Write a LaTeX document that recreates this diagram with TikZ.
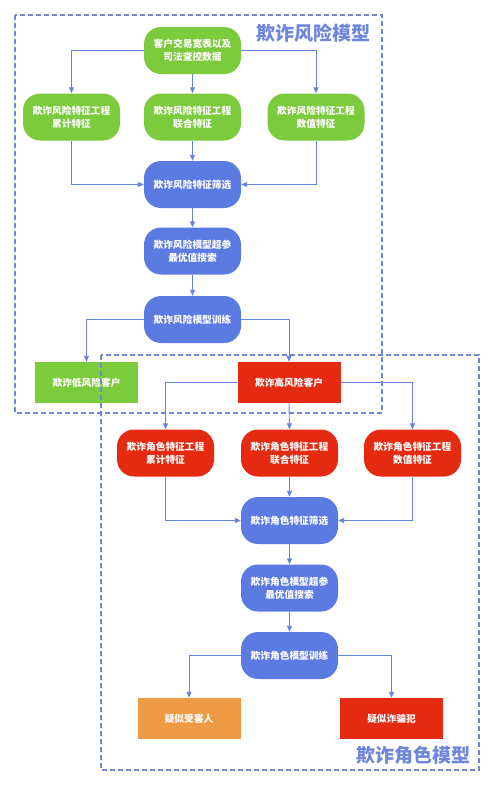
\documentclass[tikz,border=0pt]{standalone}
\usepackage{fontspec}
\setmainfont{Noto Sans CJK SC}
\usetikzlibrary{arrows.meta}
\definecolor{cgreen}{HTML}{7BCB3D}
\definecolor{cblue}{HTML}{5B7BE3}
\definecolor{cred}{HTML}{E52A12}
\definecolor{corange}{HTML}{EF9A44}
\definecolor{cline}{HTML}{6482E0}
\definecolor{cframe}{HTML}{6F86DC}
\tikzset{
  base/.style={text=white, font=\bfseries\fontsize{9.7}{13}\selectfont, align=center, inner sep=0pt},
  rbox/.style={base, rounded corners=17pt, minimum width=97pt, minimum height=47pt},
  gbox/.style={rbox, fill=cgreen},
  bbox/.style={rbox, fill=cblue},
  redbox/.style={rbox, fill=cred},
  sqbox/.style={base, minimum width=103pt, minimum height=41pt},
  conn/.style={draw=cline, line width=0.9pt, -{Triangle[length=6pt,width=5pt]}},
  frame/.style={draw=cframe, line width=1.3pt, dash pattern=on 5pt off 3pt},
  title/.style={text=cframe, font=\bfseries\fontsize{19}{22}\selectfont, inner sep=0pt}
}
\begin{document}
\begin{tikzpicture}[x=1pt,y=-1pt]
\useasboundingbox (0,0) rectangle (500,785);
% upper part
\node[gbox] (top) at (192.5,50.5) {客户交易宽表以及\\司法查控数据};
\node[gbox] (g1) at (71.5,117) {欺诈风险特征工程\\累计特征};
\node[gbox] (g2) at (192.5,117) {欺诈风险特征工程\\联合特征};
\node[gbox] (g3) at (316,117) {欺诈风险特征工程\\数值特征};
\node[bbox] (f1) at (192.5,184.5) {欺诈风险特征筛选};
\node[bbox] (h1) at (192.5,251) {欺诈风险模型超参\\最优值搜索};
\node[bbox] (t1) at (192.5,319.5) {欺诈风险模型训练};
\node[sqbox, fill=cgreen] (low) at (86.5,382.5) {欺诈低风险客户};
\node[sqbox, fill=cred] (high) at (289,382.5) {欺诈高风险客户};
% lower part
\node[redbox] (r1) at (165.5,453) {欺诈角色特征工程\\累计特征};
\node[redbox] (r2) at (289.5,453) {欺诈角色特征工程\\联合特征};
\node[redbox] (r3) at (412.5,453) {欺诈角色特征工程\\数值特征};
\node[bbox] (f2) at (289.5,520.5) {欺诈角色特征筛选};
\node[bbox] (h2) at (289.5,588) {欺诈角色模型超参\\最优值搜索};
\node[bbox] (t2) at (289.5,655.5) {欺诈角色模型训练};
\node[sqbox, fill=corange] (victim) at (189,718.5) {疑似受害人};
\node[sqbox, fill=cred] (fraud) at (391.5,718.5) {疑似诈骗犯};
% connectors
\draw[conn] (top.west) -| (g1.north);
\draw[conn] (top.south) -- (g2.north);
\draw[conn] (top.east) -| (g3.north);
\draw[conn] (g1.south) |- (f1.west);
\draw[conn] (g2.south) -- (f1.north);
\draw[conn] (g3.south) |- (f1.east);
\draw[conn] (f1.south) -- (h1.north);
\draw[conn] (h1.south) -- (t1.north);
\draw[conn] (t1.west) -| (low.north);
\draw[conn] (t1.east) -| (high.north);
\draw[conn] (high.west) -| (r1.north);
\draw[conn] (high.south) -- (r2.north);
\draw[conn] (high.east) -| (r3.north);
\draw[conn] (r1.south) |- (f2.west);
\draw[conn] (r2.south) -- (f2.north);
\draw[conn] (r3.south) |- (f2.east);
\draw[conn] (f2.south) -- (h2.north);
\draw[conn] (h2.south) -- (t2.north);
\draw[conn] (t2.west) -| (victim.north);
\draw[conn] (t2.east) -| (fraud.north);
% frames
\draw[frame] (15,15) rectangle (382,413);
\draw[frame] (101,355) rectangle (479,770);
\node[title, anchor=east] (ttl1) at (371,33) {欺诈风险模型};
\node[title, anchor=east] (ttl2) at (471,755) {欺诈角色模型};
\end{tikzpicture}
\end{document}
